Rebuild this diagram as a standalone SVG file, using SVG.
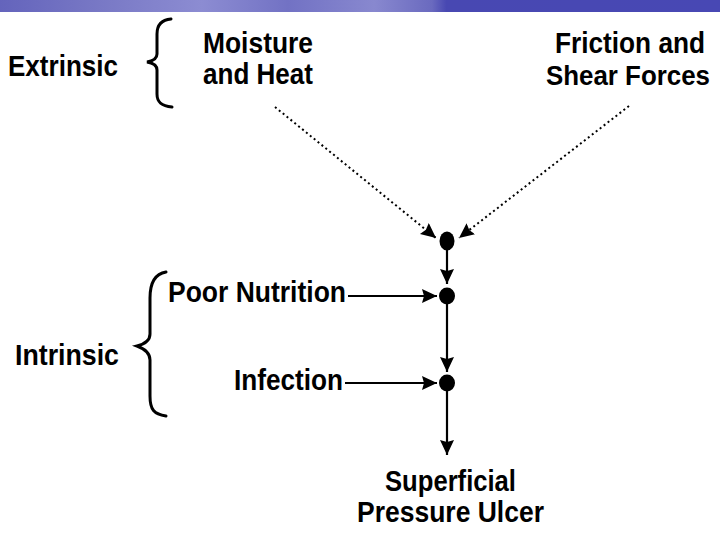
<svg xmlns="http://www.w3.org/2000/svg" width="720" height="540" viewBox="0 0 720 540">
  <defs>
    <linearGradient id="band" x1="0" y1="0" x2="1" y2="0">
      <stop offset="0" stop-color="#6464bc"/>
      <stop offset="0.15" stop-color="#7a7ac6"/>
      <stop offset="0.28" stop-color="#8c8cd2"/>
      <stop offset="0.4" stop-color="#7272c4"/>
      <stop offset="0.52" stop-color="#8888cf"/>
      <stop offset="0.6" stop-color="#6a6abf"/>
      <stop offset="0.62" stop-color="#4848b2"/>
      <stop offset="1" stop-color="#4848b4"/>
    </linearGradient>
    <marker id="arr" markerUnits="userSpaceOnUse" markerWidth="18" markerHeight="16" refX="15" refY="7" orient="auto">
      <path d="M0,0 L15,7 L0,14 L2,7 Z" fill="#000"/>
    </marker>
  </defs>
  <style>
    .t { font-family: "Liberation Sans", Arial, sans-serif; font-weight: bold; font-size: 29px; fill: #000; }
    .s { font-size: 27px; }
    .c { stroke: #000; stroke-width: 2.2; fill: none; }
    .d { stroke: #000; stroke-width: 2; fill: none; stroke-dasharray: 2 3; }
    .b { stroke: #000; stroke-width: 3; fill: none; stroke-linecap: round; }
    .n { fill: #000; }
  </style>
  <rect x="0" y="0" width="720" height="540" fill="#fff"/>
  <rect x="0" y="0" width="720" height="12" fill="url(#band)"/>

  <g id="extrinsic">
    <text class="t" x="8" y="76" textLength="110" lengthAdjust="spacingAndGlyphs">Extrinsic</text>
    <path class="b" d="M171,19 C160,20 157,26 157,34 L157,54 C157,58 153,61 147,62 C153,63 157,66 157,70 L157,94 C157,102 161,106 172,107"/>
  </g>
  <g id="moisture">
    <text class="t" x="203" y="53" textLength="110" lengthAdjust="spacingAndGlyphs">Moisture</text>
    <text class="t" x="203" y="84" textLength="110" lengthAdjust="spacingAndGlyphs">and Heat</text>
  </g>
  <g id="friction">
    <text class="t" x="555" y="53" textLength="150" lengthAdjust="spacingAndGlyphs">Friction and</text>
    <text class="t s" x="546" y="85" textLength="164" lengthAdjust="spacingAndGlyphs">Shear Forces</text>
  </g>
  <g id="intrinsic">
    <text class="t" x="15" y="365" textLength="104" lengthAdjust="spacingAndGlyphs">Intrinsic</text>
    <path class="b" d="M166,272 C154,274 150,284 150,298 L150,334 C150,340 145,344 137,346 C145,349 150,353 150,360 L150,396 C150,410 154,414 166,416"/>
  </g>
  <g id="poor-nutrition">
    <text class="t" x="168" y="302" textLength="178" lengthAdjust="spacingAndGlyphs">Poor Nutrition</text>
  </g>
  <g id="infection">
    <text class="t" x="234" y="390" textLength="109" lengthAdjust="spacingAndGlyphs">Infection</text>
  </g>
  <g id="ulcer">
    <text class="t" x="385" y="491" textLength="131" lengthAdjust="spacingAndGlyphs">Superficial</text>
    <text class="t" x="357" y="522" textLength="187" lengthAdjust="spacingAndGlyphs">Pressure Ulcer</text>
  </g>
  <g id="node1"><ellipse class="n" cx="447" cy="241" rx="7.5" ry="9.5"/></g>
  <g id="node2"><ellipse class="n" cx="447" cy="296" rx="8" ry="8.5"/></g>
  <g id="node3"><ellipse class="n" cx="447" cy="383" rx="8" ry="8.5"/></g>

  <g id="connectors">
    <path class="d" d="M275,107 L436,238" marker-end="url(#arr)"/>
    <path class="d" d="M629,106 L459,238" marker-end="url(#arr)"/>
    <path class="c" d="M447,250 L447,284" marker-end="url(#arr)"/>
    <path class="c" d="M447,304 L447,372" marker-end="url(#arr)"/>
    <path class="c" d="M447,391 L447,455" marker-end="url(#arr)"/>
    <path class="c" d="M348,296 L437,296" marker-end="url(#arr)"/>
    <path class="c" d="M345,383 L437,383" marker-end="url(#arr)"/>
  </g>
</svg>
